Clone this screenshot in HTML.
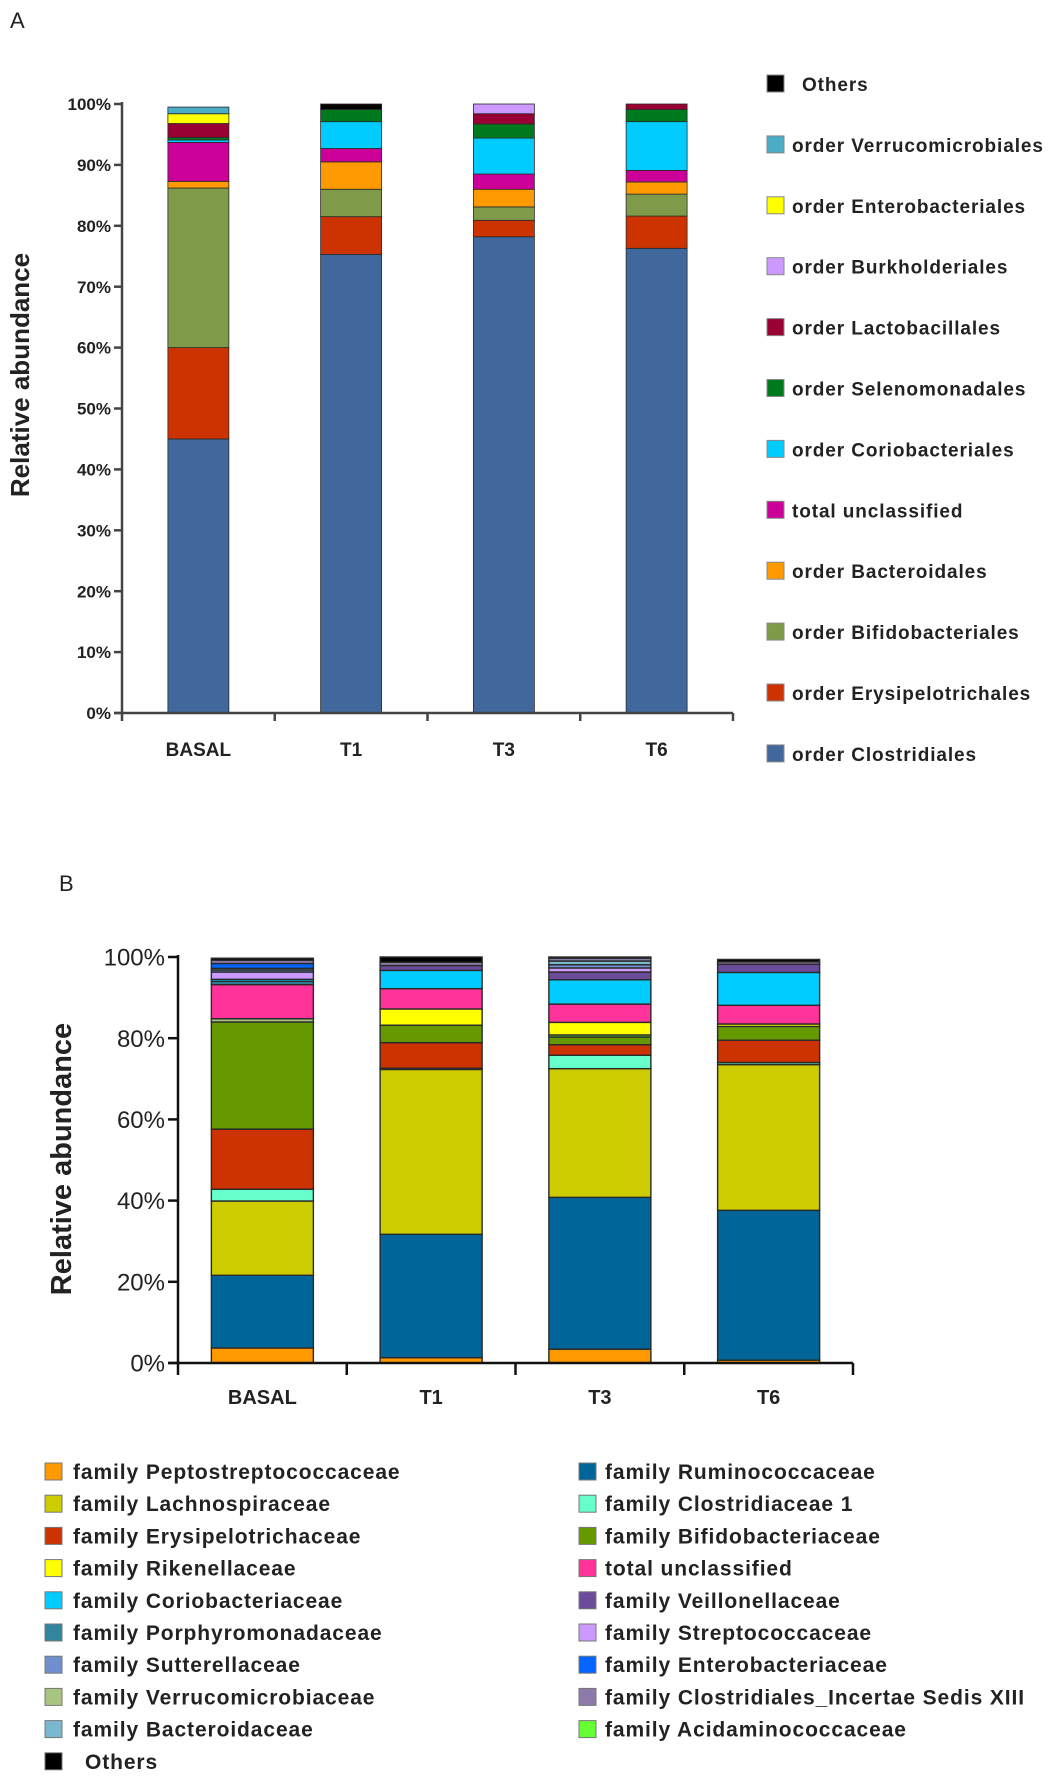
<!DOCTYPE html>
<html><head><meta charset="utf-8"><style>
html,body{margin:0;padding:0;background:#fff;}
svg{display:block;font-family:"Liberation Sans",sans-serif;}
</style></head><body>
<svg id="fig" width="1055" height="1783" viewBox="0 0 1055 1783" xmlns="http://www.w3.org/2000/svg">
<text x="10" y="28" font-size="22" fill="#222">A</text>
<text x="59" y="891" font-size="22" fill="#222">B</text>
<g id="chartA"></g>
<g id="chartB"></g>
</svg>
<script>
const categories = ["BASAL","T1","T3","T6"];
// Panel A series (percent), bottom to top
const seriesA = ["order Clostridiales","order Erysipelotrichales","order Bifidobacteriales","order Bacteroidales","total unclassified","order Coriobacteriales","order Selenomonadales","order Lactobacillales","order Burkholderiales","order Enterobacteriales","order Verrucomicrobiales","Others"];
const colorsA = ["#41689c","#cc3300","#7f9a48","#ff9900","#cc0099","#00ccff","#007a1f","#990033","#cc99ff","#ffff00","#4bacc6","#000000"];
const A_clost = [45.0,75.3,78.2,76.3];
const A_erys  = [15.0,6.2,2.7,5.3];
const A_bifi  = [26.2,4.5,2.2,3.6];
const A_bact  = [1.1,4.5,2.9,2.0];
const A_uncl  = [6.4,2.2,2.5,1.9];
const A_corio = [0.4,4.4,5.9,8.0];
const A_selen = [0.4,2.0,2.3,2.0];
const A_lacto = [2.3,0,1.7,0.9];
const A_burk  = [0,0,1.6,0];
const A_entero= [1.6,0,0,0];
const A_verru = [1.1,0,0,0];
const A_others= [0,0.9,0,0];
const valuesA = [A_clost,A_erys,A_bifi,A_bact,A_uncl,A_corio,A_selen,A_lacto,A_burk,A_entero,A_verru,A_others];
const ticksA = ["0%","10%","20%","30%","40%","50%","60%","70%","80%","90%","100%"];

// Panel B series (percent), bottom to top
const seriesB = ["family Peptostreptococcaceae","family Ruminococcaceae","family Lachnospiraceae","family Clostridiaceae 1","family Erysipelotrichaceae","family Bifidobacteriaceae","family Acidaminococcaceae","family Verrucomicrobiaceae","family Rikenellaceae","total unclassified","family Porphyromonadaceae","family Coriobacteriaceae","family Veillonellaceae","family Streptococcaceae","family Sutterellaceae","family Bacteroidaceae","family Enterobacteriaceae","family Clostridiales_Incertae Sedis XIII","Others"];
const colorsB = ["#ff9900","#006699","#cccc00","#66ffcc","#cc3300","#669900","#66ff33","#a9c47f","#ffff00","#ff3399","#31859c","#00ccff","#6b4c9a","#cc99ff","#6f8fcf","#7ab8d0","#0066ff","#8c7aa8","#000000"];
const B_pepto = [3.7,1.3,3.4,0.7];
const B_rumin = [17.9,30.4,37.4,36.9];
const B_lachn = [18.3,40.6,31.7,35.9];
const B_clo1  = [2.9,0.3,3.3,0.5];
const B_erys  = [14.8,6.3,2.6,5.5];
const B_bifi  = [26.4,4.3,1.9,3.4];
const B_acid  = [0,0,0.5,0];
const B_verr  = [0.8,0,0,0];
const B_riken = [0,4.0,3.1,0.6];
const B_uncl  = [8.4,5.0,4.5,4.6];
const B_porph = [0.8,0,0,0];
const B_corio = [0.5,4.5,6.0,8.1];
const B_veill = [0,1.2,1.9,2.0];
const B_strep = [1.8,0,1.0,0];
const B_sutt  = [0.5,0,0.8,0];
const B_bacter= [0.4,0,0.9,0];
const B_entero= [1.2,0,0,0];
const B_incer = [0.8,0.8,0.7,0.6];
const B_others= [0.5,1.3,0.3,0.6];
const valuesB = [B_pepto,B_rumin,B_lachn,B_clo1,B_erys,B_bifi,B_acid,B_verr,B_riken,B_uncl,B_porph,B_corio,B_veill,B_strep,B_sutt,B_bacter,B_entero,B_incer,B_others];
const ticksB = ["0%","20%","40%","60%","80%","100%"];
const legendB1 = ["family Peptostreptococcaceae","family Lachnospiraceae","family Erysipelotrichaceae","family Rikenellaceae","family Coriobacteriaceae","family Porphyromonadaceae","family Sutterellaceae","family Verrucomicrobiaceae","family Bacteroidaceae","Others"];
const legendB2 = ["family Ruminococcaceae","family Clostridiaceae 1","family Bifidobacteriaceae","total unclassified","family Veillonellaceae","family Streptococcaceae","family Enterobacteriaceae","family Clostridiales_Incertae Sedis XIII","family Acidaminococcaceae"];

const NS="http://www.w3.org/2000/svg";
function mk(tag, attrs, parent){const e=document.createElementNS(NS,tag);for(const k in attrs)e.setAttribute(k,attrs[k]);parent.appendChild(e);return e;}

function drawChart(g, cfg){
  const y = v => cfg.y0 - (v/100)*(cfg.y0-cfg.y100);
  const step=(cfg.xEnd-cfg.xAxis)/categories.length;
  const xc = i => cfg.xAxis + step*(i+0.5);
  categories.forEach((c,i)=>{
    let acc=0;
    cfg.values.forEach((arr,s)=>{
      const v=arr[i]; if(v<=0) return;
      const r=mk('rect',{x:xc(i)-cfg.bw/2,y:y(acc+v),width:cfg.bw,height:y(acc)-y(acc+v),fill:cfg.colors[s],stroke:'#2a2a2a','stroke-width':cfg.sw},g);
      
      
      acc+=v;
    });
  });
  const ya=mk('line',{x1:cfg.xAxis,y1:cfg.y100-2,x2:cfg.xAxis,y2:cfg.y0+cfg.tickDown,stroke:cfg.axisColor,'stroke-width':2.5},g);
  
  
  const xa=mk('line',{x1:cfg.xAxis-cfg.tickLen,y1:cfg.y0,x2:cfg.xEnd,y2:cfg.y0,stroke:cfg.axisColor,'stroke-width':2.5},g);
  
  
  for(let k=1;k<=categories.length;k++){
    const xt=cfg.xAxis+step*k;
    const t=mk('line',{x1:xt,y1:cfg.y0,x2:xt,y2:cfg.y0+cfg.tickDown,stroke:cfg.axisColor,'stroke-width':2.5},g);
    
    
  }
  cfg.ticks.forEach((lab,k)=>{
    const v=k*100/(cfg.ticks.length-1);
    const t=mk('line',{x1:cfg.xAxis-cfg.tickLen,y1:y(v),x2:cfg.xAxis,y2:y(v),stroke:cfg.axisColor,'stroke-width':2.5},g);
    
    
    const tx=mk('text',{x:cfg.xAxis-cfg.tickLen-3,y:y(v)+cfg.tickFont*0.36,'text-anchor':'end','font-size':cfg.tickFont,'font-weight':cfg.tickWeight,fill:'#222'},g);
    tx.textContent=lab;
    
    
  });
  categories.forEach((c,i)=>{
    const tx=mk('text',{x:xc(i),y:cfg.catY,'text-anchor':'middle','font-size':cfg.catFont,'font-weight':'bold',fill:'#222'},g);
    tx.textContent=c;
    
    
  });
  const tt=mk('text',{x:0,y:0,transform:`translate(${cfg.titleX},${cfg.titleY}) rotate(-90)`,'text-anchor':'middle','font-size':cfg.titleFont,'font-weight':'bold',fill:'#222'},g);
  tt.textContent='Relative abundance';
  
  
}

const gA=document.getElementById('chartA');
drawChart(gA,{xAxis:122,xEnd:733,y0:713,y100:104,bw:61,values:valuesA,colors:colorsA,ticks:ticksA,tickLen:8,tickDown:8,axisColor:'#444',sw:0.8,tickFont:17,tickWeight:'bold',catY:756,catFont:19,titleX:29,titleY:375,titleFont:26});
for(let k=0;k<seriesA.length;k++){
  const s=seriesA.length-1-k;
  const cy=84+k*60.9;
  const r=mk('rect',{x:767,y:cy-9,width:17,height:17,fill:colorsA[s],stroke:'#888','stroke-width':1},gA);
  
  
  const t=mk('text',{x:seriesA[s]==='Others'?802:792,y:cy+7,'font-size':19,'letter-spacing':0.9,'font-weight':'bold',fill:'#222'},gA);
  t.textContent=seriesA[s];
  
  
}

const gB=document.getElementById('chartB');
drawChart(gB,{xAxis:178,xEnd:853,y0:1363,y100:957,bw:102,values:valuesB,colors:colorsB,ticks:ticksB,tickLen:10,tickDown:12,axisColor:'#111',sw:1.4,tickFont:24,tickWeight:'normal',catY:1404,catFont:20,titleX:71,titleY:1159,titleFont:29});
function legendCol(list,xs,xt){
  list.forEach((name,k)=>{
    const s=seriesB.indexOf(name);
    const cy=1472+k*32.2;
    const r=mk('rect',{x:xs,y:cy-9,width:17,height:17,fill:colorsB[s],stroke:'#777','stroke-width':1},gB);
    
    
    const t=mk('text',{x:name==='Others'?xt+12:xt,y:cy+7,'font-size':21,'letter-spacing':0.9,'font-weight':'bold',fill:'#222'},gB);
    t.textContent=name;
    
    
  });
}
legendCol(legendB1,45,73);
legendCol(legendB2,579,605);
</script>
</body></html>
